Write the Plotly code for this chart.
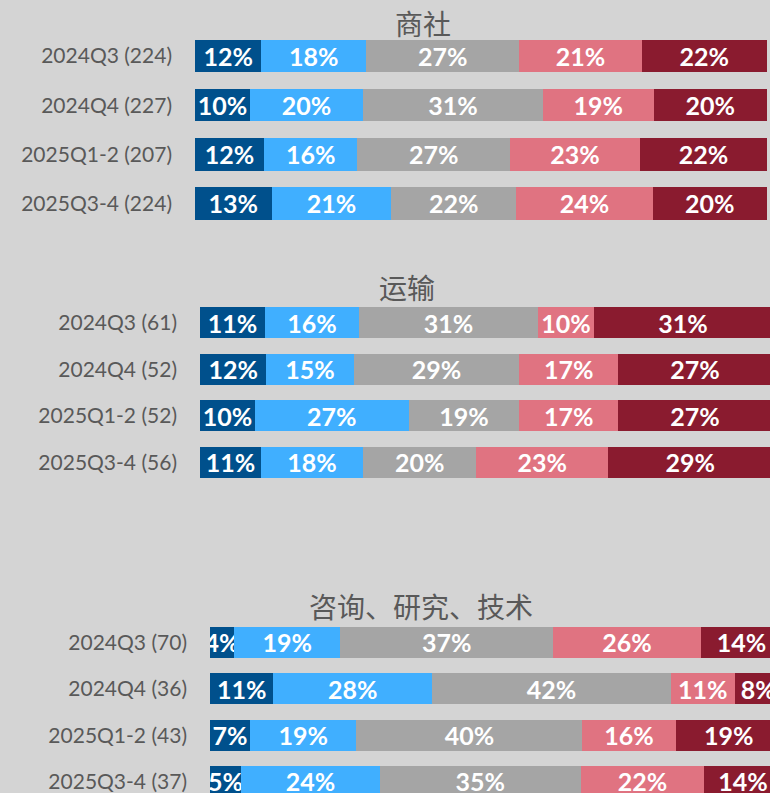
import plotly.graph_objects as go

# ---- data ----
series_names = ["s1", "s2", "s3", "s4", "s5"]
colors = ["#00508c", "#40afff", "#a5a5a5", "#e07381", "#8a1b2f"]

panel_titles = ["商社", "运输", "咨询、研究、技术"]

cats_trading = ["2024Q3 (224)", "2024Q4 (227)", "2025Q1-2 (207)", "2025Q3-4 (224)"]
trading_s1 = [11.6, 9.6, 12.1, 13.4]
trading_s2 = [18.3, 19.8, 16.3, 20.9]
trading_s3 = [26.8, 31.4, 26.7, 21.9]
trading_s4 = [21.4, 19.4, 22.7, 23.8]
trading_s5 = [21.9, 19.8, 22.2, 20.0]

cats_transport = ["2024Q3 (61)", "2024Q4 (52)", "2025Q1-2 (52)", "2025Q3-4 (56)"]
transport_s1 = [11.4, 11.6, 9.6, 10.7]
transport_s2 = [16.4, 15.3, 26.9, 17.8]
transport_s3 = [31.3, 28.9, 19.3, 19.8]
transport_s4 = [9.8, 17.3, 17.3, 23.1]
transport_s5 = [31.1, 26.9, 26.9, 28.6]

cats_consult = ["2024Q3 (70)", "2024Q4 (36)", "2025Q1-2 (43)", "2025Q3-4 (37)"]
consult_s1 = [4.2, 11.1, 7.0, 5.4]
consult_s2 = [18.6, 27.7, 18.6, 24.3]
consult_s3 = [37.2, 41.8, 39.5, 35.1]
consult_s4 = [25.8, 11.1, 16.3, 21.6]
consult_s5 = [14.2, 8.3, 18.6, 13.6]

panels = [
    (cats_trading, [trading_s1, trading_s2, trading_s3, trading_s4, trading_s5]),
    (cats_transport, [transport_s1, transport_s2, transport_s3, transport_s4, transport_s5]),
    (cats_consult, [consult_s1, consult_s2, consult_s3, consult_s4, consult_s5]),
]

# ---- layout geometry ----
W, H = 770, 793
PX_PER_PCT = 5.72
x_starts = [195, 200, 210]
y_domains = [[0.7124, 0.9604], [0.3874, 0.6227], [0.0, 0.2190]]
y_ranges = [[3.5, -0.5], [3.5, -0.5], [3.249, -0.5]]
bar_widths = [0.66, 0.664, 0.67]
title_pos = [(423, 23), (407, 287), (421, 606)]

BG = "#d4d4d4"
TXT = "#595959"

fig = go.Figure()
for p, (cats, vals) in enumerate(panels):
    xa = "x" if p == 0 else f"x{p+1}"
    ya = "y" if p == 0 else f"y{p+1}"
    for k, v in enumerate(vals):
        fig.add_trace(go.Bar(
            x=v, y=list(range(len(cats))), orientation="h",
            marker=dict(color=colors[k], line=dict(width=0)),
            width=bar_widths[p],
            texttemplate="%{x:.0f}%",
            textposition="inside", insidetextanchor="middle",
            constraintext="none", textangle=0,
            textfont=dict(family="Lato", size=25, color="white", weight="bold"),
            xaxis=xa, yaxis=ya, showlegend=False, hoverinfo="skip",
            cliponaxis=True,
        ))

layout = dict(
    width=W, height=H, barmode="stack",
    paper_bgcolor=BG, plot_bgcolor=BG,
    margin=dict(l=0, r=0, t=0, b=0),
    uniformtext=dict(mode=False),
    annotations=[],
)
for p, (cats, vals) in enumerate(panels):
    xk = "xaxis" if p == 0 else f"xaxis{p+1}"
    yk = "yaxis" if p == 0 else f"yaxis{p+1}"
    xs = x_starts[p]
    layout[xk] = dict(
        domain=[xs / W, 1], range=[0, (W - xs) / PX_PER_PCT],
        visible=False, showgrid=False, zeroline=False,
        anchor="y" if p == 0 else f"y{p+1}",
    )
    layout[yk] = dict(
        domain=y_domains[p], range=y_ranges[p],
        tickvals=list(range(len(cats))), ticktext=cats,
        tickfont=dict(family="Lato", size=21, color=TXT),
        showgrid=False, zeroline=False, showline=False,
        ticks="", ticklabelstandoff=22,
        anchor="x" if p == 0 else f"x{p+1}",
    )
    tx, ty = title_pos[p]
    layout["annotations"].append(dict(
        text=panel_titles[p], x=tx / W, y=1 - ty / H, xref="paper", yref="paper",
        xanchor="center", yanchor="middle", showarrow=False,
        font=dict(family="Noto Sans CJK SC", size=28, color=TXT),
    ))

fig.update_layout(**layout)
fig.write_html(
    "out.html",
    config={"displayModeBar": False},
    post_script="document.body.style.margin='0';document.body.style.overflow='hidden';",
)
